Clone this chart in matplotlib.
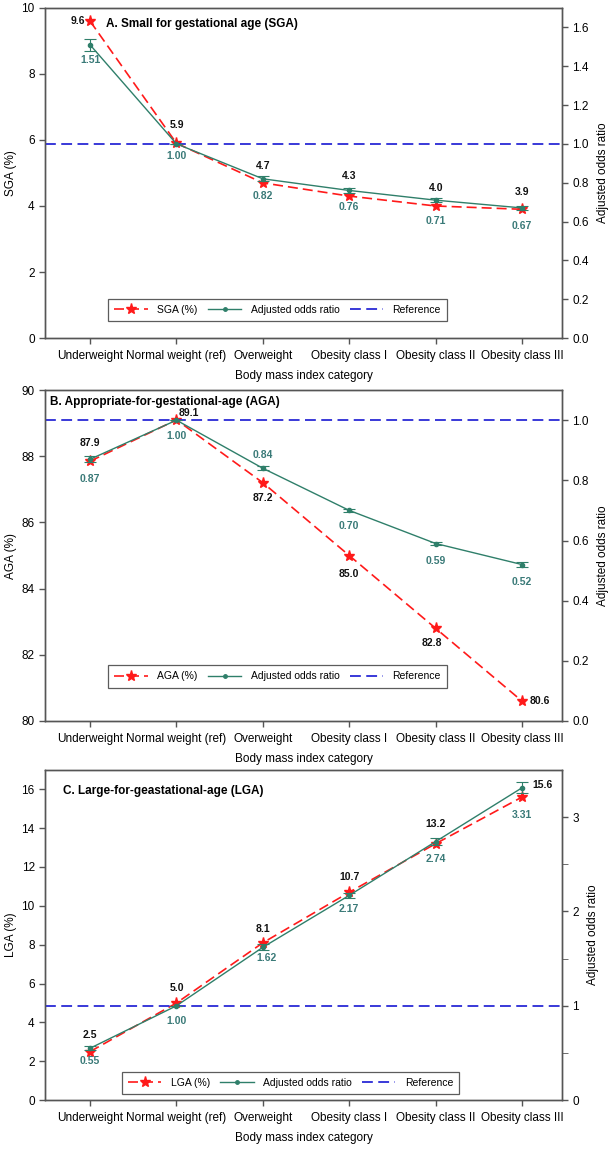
import matplotlib.pyplot as plt
from matplotlib.lines import Line2D
import numpy as np

plt.rcParams['font.family'] = ['Liberation Sans', 'DejaVu Sans']

categories = ["Underweight", "Normal weight (ref)", "Overweight",
              "Obesity class I", "Obesity class II", "Obesity class III"]

# panel A - SGA
sga_pct = [9.6, 5.9, 4.7, 4.3, 4.0, 3.9]
sga_or = [1.51, 1.00, 0.82, 0.76, 0.71, 0.67]
sga_or_err = [0.03, 0.0, 0.012, 0.012, 0.012, 0.012]

# panel B - AGA
aga_pct = [87.85, 89.1, 87.2, 85.0, 82.8, 80.6]
aga_pct_lbl = ["87.9", "89.1", "87.2", "85.0", "82.8", "80.6"]
aga_or = [0.87, 1.00, 0.84, 0.70, 0.59, 0.52]
aga_or_err = [0.01, 0.0, 0.006, 0.006, 0.006, 0.007]

# panel C - LGA
lga_pct = [2.5, 5.0, 8.1, 10.7, 13.2, 15.6]
lga_or = [0.55, 1.00, 1.62, 2.17, 2.74, 3.31]
lga_or_err = [0.02, 0.0, 0.03, 0.03, 0.04, 0.06]

RED = '#ff1a1a'
TEAL = '#2f7f6a'
TEAL_TXT = '#3a7a78'
BLUE = '#2a2ad6'

panels = [
    dict(pct=sga_pct, lbl=["%.1f" % v for v in sga_pct], oddr=sga_or, err=sga_or_err,
         name="SGA (%)", title="A. Small for gestational age (SGA)",
         ylim=(0, 10), yticks=np.arange(0, 11, 2), ylim2=(0, 1.7),
         yticks2=np.arange(0, 1.61, 0.2), fmt2="%.1f",
         pos=[0.074, 0.7058, 0.847, 0.2873], title_xy=(0.118, 0.95),
         leg=(0.45, 0.085),
         pct_off=[(-5, 0, 'right'), (0, 18, 'center'), (0, 17, 'center'),
                  (0, 20, 'center'), (0, 18, 'center'), (0, 17, 'center')],
         or_off=[(0, -15), (0, -12), (0, -17), (0, -17), (0, -21), (0, -18)]),
    dict(pct=aga_pct, lbl=aga_pct_lbl, oddr=aga_or, err=aga_or_err,
         name="AGA (%)", title="B. Appropriate-for-gestational-age (AGA)",
         ylim=(80, 90), yticks=np.arange(80, 91, 2), ylim2=(0, 1.1),
         yticks2=np.arange(0, 1.01, 0.2), fmt2="%.1f",
         pos=[0.074, 0.3725, 0.847, 0.288], title_xy=(0.01, 0.965),
         leg=(0.45, 0.135),
         pct_off=[(0, 18, 'center'), (12, 7, 'center'), (0, -15, 'center'),
                  (0, -18, 'center'), (-4, -15, 'center'), (8, 0, 'left')],
         or_off=[(0, -20), (0, -16), (0, 13), (0, -16), (0, -17), (0, -17)]),
    dict(pct=lga_pct, lbl=["%.1f" % v for v in lga_pct], oddr=lga_or, err=lga_or_err,
         name="LGA (%)", title="C. Large-for-geastational-age (LGA)",
         ylim=(0, 17), yticks=np.arange(0, 17, 2), ylim2=(0, 3.5),
         yticks2=np.arange(0, 4, 1), fmt2="%d",
         pos=[0.074, 0.0425, 0.847, 0.2875], title_xy=(0.035, 0.937),
         leg=(0.475, 0.052),
         pct_off=[(0, 17, 'center'), (0, 15, 'center'), (0, 14, 'center'),
                  (0, 15, 'center'), (0, 20, 'center'), (10, 12, 'left')],
         or_off=[(0, -13), (0, -15), (4, -11), (0, -14), (0, -17), (0, -27)]),
]

x = np.arange(len(categories))

fig = plt.figure(figsize=(6.1, 11.49), dpi=100)

for p in panels:
    ax = fig.add_axes(p['pos'])
    ax2 = ax.twinx()

    l1, = ax.plot(x, p['pct'], color=RED, ls=(0, (6, 3)), lw=1.2, marker='*',
                  ms=8, mec=RED, mfc=RED, zorder=3)
    ax2.errorbar(x, p['oddr'], yerr=p['err'], color=TEAL, lw=1.0,
                 marker='o', ms=3, capsize=4, elinewidth=0.8,
                 capthick=0.8, zorder=2)
    ref = ax2.axhline(1.0, color=BLUE, ls=(0, (6, 3)), lw=1.3, zorder=1)
    or_handle = Line2D([], [], color=TEAL, lw=1.0, marker='o', ms=2.5)

    for i in range(len(x)):
        dx, dy, ha = p['pct_off'][i]
        ax.annotate(p['lbl'][i], (x[i], p['pct'][i]), xytext=(dx, dy),
                    textcoords='offset pixels', ha=ha, va='center',
                    fontsize=7.5, fontweight='bold', color='#111111')
        dx, dy = p['or_off'][i]
        ax2.annotate("%.2f" % p['oddr'][i], (x[i], p['oddr'][i]), xytext=(dx, dy),
                     textcoords='offset pixels', ha='center', va='center',
                     fontsize=7.5, fontweight='bold', color=TEAL_TXT)

    ax.set_xlim(-0.52, 5.46)
    ax.set_ylim(*p['ylim'])
    ax.set_yticks(p['yticks'])
    ax2.set_ylim(*p['ylim2'])
    ax2.set_yticks(p['yticks2'])
    ax2.set_yticklabels([p['fmt2'] % v for v in p['yticks2']])
    if p['name'].startswith('LGA'):
        ax2.set_yticks(np.arange(0.5, 3.5, 1.0), minor=True)
        ax2.tick_params(axis='y', which='minor', length=4, color='#555555')

    ax.set_xticks(x)
    ax.set_xticklabels(categories, fontsize=8.5)
    ax.set_xlabel("Body mass index category", fontsize=8.5, labelpad=6)
    ax.set_ylabel(p['name'], fontsize=8.5, labelpad=3)
    ax2.set_ylabel("Adjusted odds ratio", fontsize=8.5, labelpad=6)
    for a in (ax, ax2):
        a.tick_params(labelsize=8.5, color='#555555', length=4, width=1)
        for s in a.spines.values():
            s.set_color('#555555')
            s.set_linewidth(1)
    ax.tick_params(axis='x', pad=4.5)

    ax2.text(p['title_xy'][0], p['title_xy'][1], p['title'], transform=ax.transAxes,
             fontsize=8.5, fontweight='bold', ha='left', va='center')

    leg = ax2.legend([l1, or_handle, ref], [p['name'], "Adjusted odds ratio", "Reference"],
                     loc='center', bbox_to_anchor=p['leg'], ncol=3, fontsize=7.5,
                     frameon=True, fancybox=False, edgecolor='#333333',
                     handlelength=3.2, columnspacing=1.0, handletextpad=0.9,
                     borderpad=0.6)
    leg.get_frame().set_linewidth(0.9)

fig.savefig("out.png", dpi=100)
